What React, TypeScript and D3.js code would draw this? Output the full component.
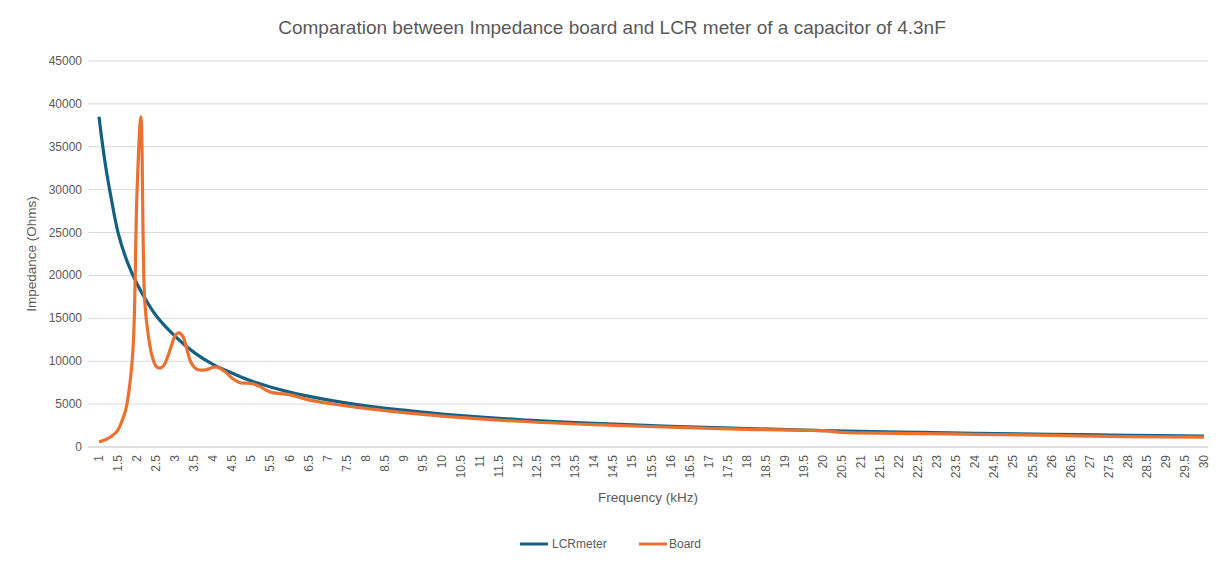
import * as d3 from "d3";

const lcrFreq = [1, 1.1, 1.2, 1.3, 1.5, 1.75, 2, 2.25, 2.5, 3, 3.5, 4, 4.5, 5, 6, 7, 8, 9, 10, 12, 14, 16, 18, 20, 22, 24, 26, 28, 30];
const lcrZ = [38500, 35000, 32000, 29500, 25000, 21500, 19000, 17000, 15300, 12900, 11000, 9600, 8600, 7700, 6400, 5500, 4800, 4300, 3850, 3200, 2750, 2400, 2150, 1920, 1750, 1600, 1480, 1370, 1280];

const boardFreq = [1, 1.2, 1.4, 1.5, 1.6, 1.7, 1.8, 1.9, 2.0, 2.1, 2.2, 2.3, 2.4, 2.5, 2.6, 2.7, 2.8, 2.9, 3.0, 3.1, 3.2, 3.3, 3.4, 3.5, 3.6, 3.8, 4.0, 4.1, 4.3, 4.5, 4.7, 5.0, 5.2, 5.5, 6, 6.5, 7, 8, 9, 10, 12, 14, 16, 18, 20, 20.5, 22, 24, 26, 28, 30];
const boardZ = [600, 900, 1500, 2000, 3000, 4300, 7000, 12000, 30000, 38500, 17000, 12800, 10500, 9400, 9200, 9500, 10500, 11800, 13000, 13300, 12900, 11500, 10000, 9300, 9000, 9000, 9300, 9300, 8800, 8000, 7500, 7400, 7100, 6400, 6100, 5500, 5100, 4500, 4000, 3600, 3000, 2600, 2300, 2050, 1900, 1700, 1600, 1480, 1350, 1200, 1150];

const xTicks = d3.range(2, 61).map((i) => i / 2);
const yTicks = d3.range(0, 45001, 5000);

const W = 1224;
const H = 562;
const font = "'Liberation Sans', Arial, sans-serif";
const grey = "#595959";

export default function App() {
  const x = d3.scaleLinear().domain([1, 30]).range([99, 1204]);
  const y = d3.scaleLinear().domain([0, 45000]).range([447, 61]);
  const line = d3
    .line<[number, number]>()
    .x((d) => x(d[0]))
    .y((d) => y(d[1]))
    .curve(d3.curveCatmullRom);
  const lcr = lcrFreq.map((f, i) => [f, lcrZ[i]] as [number, number]);
  const board = boardFreq.map((f, i) => [f, boardZ[i]] as [number, number]);

  return (
    <svg width={W} height={H} style={{ position: "absolute", left: 0, top: 0 }} fontFamily={font}>
      <rect width={W} height={H} fill="#fff" />
      <text x={612} y={34} textAnchor="middle" fontSize={19} fill={grey}>
        Comparation between Impedance board and LCR meter of a capacitor of 4.3nF
      </text>
      {yTicks.map((t) => (
        <g key={t}>
          <line x1={88} x2={1208} y1={y(t)} y2={y(t)} stroke={t === 0 ? "#bfbfbf" : "#d9d9d9"} />
          <text x={82} y={y(t) + 4} textAnchor="end" fontSize={12} fill={grey}>
            {t}
          </text>
        </g>
      ))}
      {xTicks.map((t) => (
        <text
          key={t}
          transform={`translate(${x(t) + 4},${455}) rotate(-90)`}
          textAnchor="end"
          fontSize={12}
          fill={grey}
        >
          {t}
        </text>
      ))}
      <text transform={`translate(36,254) rotate(-90)`} textAnchor="middle" fontSize={13.5} fill={grey}>
        Impedance (Ohms)
      </text>
      <text x={648} y={502} textAnchor="middle" fontSize={13.5} fill={grey}>
        Frequency (kHz)
      </text>
      <path d={line(lcr) ?? ""} fill="none" stroke="#156082" strokeWidth={3.2} strokeLinejoin="round" />
      <path d={line(board) ?? ""} fill="none" stroke="#e97132" strokeWidth={3.2} strokeLinejoin="round" />
      <g fontSize={12} fill={grey}>
        <line x1={520} x2={548} y1={544} y2={544} stroke="#156082" strokeWidth={3} />
        <text x={552} y={548}>LCRmeter</text>
        <line x1={639} x2={667} y1={544} y2={544} stroke="#e97132" strokeWidth={3} />
        <text x={669} y={548}>Board</text>
      </g>
    </svg>
  );
}
